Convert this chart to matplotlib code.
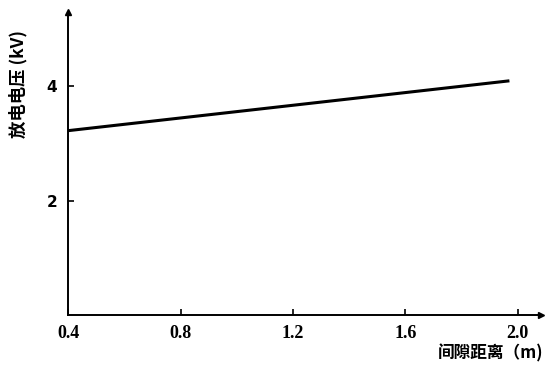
import matplotlib
matplotlib.use("Agg")
import matplotlib.pyplot as plt

# Data
gap_distance = [0.4, 1.97]          # m
discharge_voltage = [3.22, 4.09]    # kV
x_ticks = [0.4, 0.8, 1.2, 1.6, 2.0]
x_tick_labels = ["0.4", "0.8", "1.2", "1.6", "2.0"]
y_ticks = [2, 4]
y_tick_labels = ["2", "4"]
y_label = "放电电压 (kV)"
x_label = "间隙距离（m)"

plt.rcParams['font.family'] = ['Noto Sans CJK SC', 'DejaVu Sans']

fig = plt.figure(figsize=(5.45, 3.66), dpi=100)
ax = fig.add_axes([0.125, 0.139, 0.868, 0.828])

ax.plot(gap_distance, discharge_voltage, color='black', lw=2.2, solid_capstyle='butt')

ax.set_xlim(0.4, 2.083)
ax.set_ylim(0, 5.29)

for s in ['top', 'right']:
    ax.spines[s].set_visible(False)
for s in ['left', 'bottom']:
    ax.spines[s].set_linewidth(1.4)
    ax.spines[s].set_color('black')

# axis arrows
ax.plot(1, 0, marker='>', color='black', ms=5, transform=ax.transAxes, clip_on=False)
ax.plot(0, 1, marker='^', color='black', ms=5, transform=ax.transAxes, clip_on=False)

ax.set_xticks(x_ticks)
ax.set_xticklabels(x_tick_labels, family=['Liberation Serif'], fontsize=13, fontweight='bold')
ax.set_yticks(y_ticks)
ax.set_yticklabels(y_tick_labels, family=['DejaVu Sans'], fontsize=11, fontweight='bold')
ax.tick_params(axis='both', direction='in', length=4, width=1.2, colors='black')
ax.tick_params(axis='x', pad=7)
ax.tick_params(axis='y', pad=8)

fig.text(0.033, 0.77, y_label, rotation=90, ha='center', va='center',
         fontsize=12.5, fontweight='bold', family=['Noto Sans CJK SC', 'DejaVu Sans'])
fig.text(0.997, 0.035, x_label, ha='right', va='center',
         fontsize=12, fontweight='bold', family=['Noto Sans CJK SC', 'DejaVu Sans'])

fig.savefig("out.png", dpi=100)
